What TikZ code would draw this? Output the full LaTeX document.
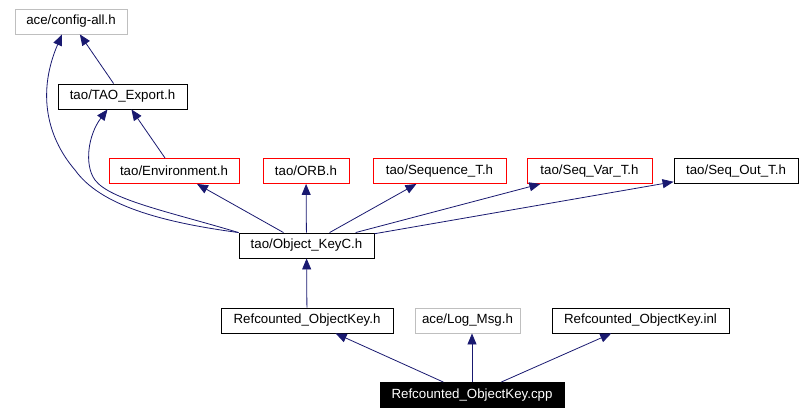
\documentclass[tikz,border=0pt]{standalone}
\usepackage{fontspec}
\setmainfont{Liberation Sans}
\usetikzlibrary{arrows.meta}
\definecolor{edgeblue}{RGB}{25,25,112}
\definecolor{lightline}{RGB}{191,191,191}

\begin{document}
\begin{tikzpicture}[x=1pt, y=-1pt, font=\fontsize{13.3}{15}\selectfont,
      file/.style={draw=black, line width=0.9pt, minimum height=25pt, inner sep=0pt, fill=white},
      redfile/.style={file, draw=red},
      extfile/.style={file, draw=lightline},
      mainfile/.style={file, fill=black, text=white},
      dep/.style={draw=edgeblue, line width=0.8pt, -{Triangle[length=11pt,width=9pt]}}]
      \useasboundingbox (0,0) rectangle (804,415);

      % headers
      \node[extfile, minimum width=112pt, name=cfg] at (71,21.5) {ace/config-all.h};
      \node[file, minimum width=129pt, name=tao] at (122.5,96.5) {tao/TAO\_Export.h};
      \node[redfile, minimum width=130pt, name=env] at (174,171) {tao/Environment.h};
      \node[redfile, minimum width=86pt, name=orb] at (306,171) {tao/ORB.h};
      \node[redfile, minimum width=133pt, name=seqt] at (439.5,171) {tao/Sequence\_T.h};
      \node[redfile, minimum width=125pt, name=seqvar] at (589.5,171) {tao/Seq\_Var\_T.h};
      \node[file, minimum width=124pt, name=seqout] at (736,171) {tao/Seq\_Out\_T.h};
      \node[file, minimum width=135pt, name=okc] at (306.5,245.5) {tao/Object\_KeyC.h};
      \node[file, minimum width=172pt, name=rok] at (307,320.5) {Refcounted\_ObjectKey.h};
      \node[extfile, minimum width=105pt, name=log] at (467.5,320.5) {ace/Log\_Msg.h};
      \node[file, minimum width=177pt, name=inl] at (640.5,320.5) {Refcounted\_ObjectKey.inl};
      \node[mainfile, minimum width=184pt, name=cpp] at (472,395) {Refcounted\_ObjectKey.cpp};

      % includes
      \draw[dep] (tao) -- (cfg);
      \draw[dep] (env) -- (tao);
      \draw[dep] (okc) -- (env);
      \draw[dep] (okc) -- (orb);
      \draw[dep] (okc) -- (seqt);
      \draw[dep] (okc) -- (seqvar);
      \draw[dep] (okc) -- (seqout);
      \draw[dep] (rok) -- (okc);
      \draw[dep] (cpp) -- (rok);
      \draw[dep] (cpp.north) -- (cpp.north |- log.south);
      \draw[dep] (cpp) -- (inl);
      \draw[dep] (okc.north west) .. controls (160,222) and (100,205) .. (75,170)
         .. controls (45,135) and (38,90) .. ([xshift=-9pt]cfg.south);
      \draw[dep] (okc.north west) .. controls (170,212) and (110,200) .. (95,180)
         .. controls (84,165) and (88,135) .. ([xshift=-15pt]tao.south);
\end{tikzpicture}
\end{document}
